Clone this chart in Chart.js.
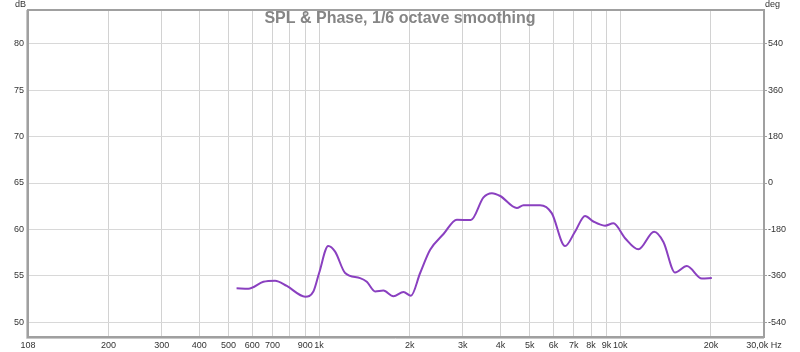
<!DOCTYPE html>
<html>
<head>
<meta charset="utf-8">
<script src="https://cdn.jsdelivr.net/npm/chart.js@4"></script>
<style>
  body { margin: 0; background: #fff; }
  #wrap { width: 800px; height: 352px; }
</style>
</head>
<body>
<div id="wrap"><canvas id="spl"></canvas></div>
<script>
// frequency response (Hz / dB)
const freqs = [532, 582, 653, 714, 781, 899, 957, 1000, 1072, 1130, 1220, 1368, 1440, 1535, 1635, 1765, 1906, 2017,
  2165, 2337, 2588, 2866, 3190, 3514, 3748, 3993, 4535, 4770, 5415, 5920, 6555, 7073, 7637, 8138, 8897, 9487,
  10371, 11485, 12950, 13905, 15205, 16630, 18660, 20130];
const splValues = [53.65, 53.6, 54.35, 54.47, 53.9, 52.75, 53.3, 55.3, 58.2, 57.6, 55.3, 54.75, 54.35, 53.3, 53.4, 52.8, 53.25, 52.85,
  55.3, 57.8, 59.5, 61.05, 61.0, 63.45, 63.9, 63.6, 62.3, 62.6, 62.6, 61.75, 58.2, 59.75, 61.45, 60.85, 60.4, 60.65,
  59.05, 57.85, 59.75, 58.65, 55.35, 56.05, 54.7, 54.75];

// axis ticks
const freqTicks = [108, 200, 300, 400, 500, 600, 700, 800, 900, 1000, 2000, 3000, 4000, 5000, 6000, 7000, 8000, 9000, 10000, 20000, 30000];
const freqLabels = ['108', '200', '300', '400', '500', '600', '700', '', '900', '1k', '2k', '3k', '4k', '5k', '6k', '7k', '8k', '9k', '10k', '20k', '30,0k Hz'];
const dbTicks = [50, 55, 60, 65, 70, 75, 80];
const degTicks = [-540, -360, -180, 0, 180, 360, 540];

const dbMin = 48.4, dbMax = 83.65;

const points = freqs.map((f, i) => ({ x: f, y: splValues[i] }));
const tickFont = { family: '"Liberation Sans", Arial, sans-serif', size: 9 };

// frame + title + axis units
const decor = {
  id: 'decor',
  afterDraw(chart) {
    const { ctx, chartArea: a } = chart;
    ctx.save();
    ctx.strokeStyle = '#a0a0a0';
    ctx.lineWidth = 2;
    ctx.strokeRect(a.left, a.top, a.right - a.left, a.bottom - a.top);
    ctx.strokeStyle = '#c8c8c8';
    ctx.lineWidth = 1;
    ctx.beginPath();
    ctx.moveTo(a.left - 1.5, a.top);
    ctx.lineTo(a.left - 1.5, a.bottom + 1.5);
    ctx.lineTo(a.right, a.bottom + 1.5);
    ctx.stroke();

    ctx.font = 'bold 16px "Liberation Sans", Arial, sans-serif';
    ctx.fillStyle = '#858585';
    ctx.textAlign = 'center';
    ctx.textBaseline = 'middle';
    ctx.fillText('SPL & Phase, 1/6 octave smoothing', 400, 19);

    ctx.font = '9px "Liberation Sans", Arial, sans-serif';
    ctx.fillStyle = '#333';
    ctx.textAlign = 'left';
    ctx.fillText('dB', 15, 5);
    ctx.fillText('deg', 765, 5);
    ctx.restore();
  }
};

new Chart(document.getElementById('spl'), {
  type: 'line',
  data: {
    datasets: [{
      data: points,
      borderColor: '#8a40c0',
      borderWidth: 2,
      pointRadius: 0,
      cubicInterpolationMode: 'monotone',
      yAxisID: 'y'
    }]
  },
  options: {
    responsive: true,
    maintainAspectRatio: false,
    animation: false,
    layout: { padding: { top: 10, left: 0, right: 0, bottom: 0 } },
    plugins: { legend: { display: false }, tooltip: { enabled: false } },
    scales: {
      x: {
        type: 'logarithmic',
        min: 108,
        max: 30000,
        afterBuildTicks(scale) {
          scale.ticks = freqTicks.map(v => ({ value: v }));
        },
        afterFit(scale) { scale.height = 15; },
        grid: { color: '#d2d2d2', drawTicks: false },
        border: { display: false },
        ticks: {
          autoSkip: false,
          maxRotation: 0,
          padding: 3,
          color: '#333',
          font: tickFont,
          callback: (v, i) => freqLabels[i]
        }
      },
      y: {
        position: 'left',
        min: dbMin,
        max: dbMax,
        afterBuildTicks(scale) {
          scale.ticks = dbTicks.map(v => ({ value: v }));
        },
        afterFit(scale) { scale.width = 28; },
        grid: { color: '#d8d8d8', drawTicks: false },
        border: { display: false },
        ticks: {
          padding: 4,
          color: '#333',
          font: tickFont
        }
      },
      y2: {
        position: 'right',
        min: (dbMin - 65) * 36,
        max: (dbMax - 65) * 36,
        afterBuildTicks(scale) {
          scale.ticks = degTicks.map(v => ({ value: v }));
        },
        afterFit(scale) { scale.width = 36; },
        grid: { drawOnChartArea: false, color: '#a0a0a0', tickLength: 3 },
        border: { display: false },
        ticks: {
          padding: 1,
          color: '#333',
          font: tickFont
        }
      }
    }
  },
  plugins: [decor]
});
</script>
</body>
</html>
